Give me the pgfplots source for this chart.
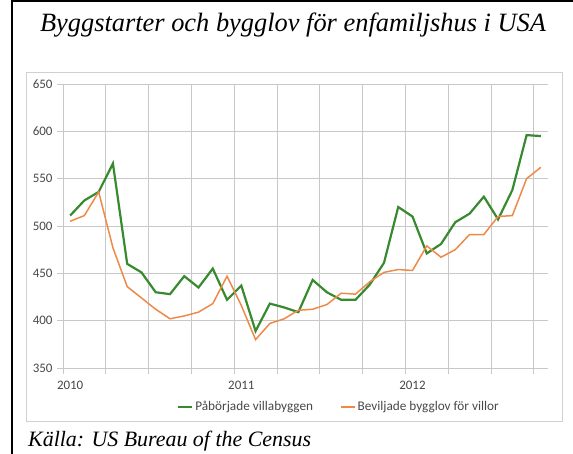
\documentclass[border=0pt]{standalone}
\usepackage{pgfplots}
\pgfplotsset{compat=1.18}
\usepackage{fontspec}
\setmainfont{Liberation Serif}
\newfontfamily\calibri{Carlito}
\definecolor{gridc}{HTML}{C8C8C8}
\definecolor{boxc}{HTML}{D0D0D0}
\definecolor{txtc}{HTML}{484848}
\definecolor{greenl}{HTML}{388A2E}
\definecolor{orangel}{HTML}{EE8A48}
\begin{document}
\begin{tikzpicture}[x=1bp,y=1bp]
\useasboundingbox (0,0) rectangle (573,454);
\draw[line width=2bp] (12,0) -- (12,453) -- (573,453);
\draw[boxc, line width=0.8bp] (26,33) rectangle (562,381.3);
\node[anchor=base, font=\fontsize{26.5}{30}\selectfont\itshape] at (293,422) {Byggstarter och bygglov för enfamiljshus i USA};
\node[anchor=base west, inner sep=0pt, font=\fontsize{22}{26}\selectfont\itshape] at (28,7) {Källa: US Bureau of the Census};
\begin{axis}[
  at={(63bp,86bp)}, anchor=south west,
  scale only axis, width=485bp, height=284bp,
  xmin=-0.5, xmax=33.5, ymin=350, ymax=650,
  axis line style={draw=none},
  xtick={-0.5,2.5,...,32.5}, xticklabels={},
  ytick={350,400,...,650},
  xtick pos=bottom, ytick pos=left,
  tick align=outside, major tick length=6bp,
  tick style={gridc, line width=0.8bp},
  grid=major, major grid style={gridc, line width=0.8bp},
  extra x ticks={0,12,24}, extra x tick labels={2010,2011,2012},
  extra x tick style={grid=none, major tick length=0pt, tick style={draw=none},
    xticklabel style={yshift=-10bp}},
  ticklabel style={font=\calibri\fontsize{13}{15}\selectfont, text=txtc},
  yticklabel style={xshift=-1bp},
  /pgf/number format/assume math mode=true,
  legend style={at={(0.569,-0.137)}, anchor=center, draw=none, fill=none,
    font=\calibri\fontsize{13.3}{15}\selectfont, text=txtc,
    legend columns=2, /tikz/every even column/.append style={column sep=25bp},
    inner sep=0pt},
  legend image code/.code={\draw[#1] (0bp,0bp) -- (14bp,0bp);},
]
\addplot[greenl, line width=2.2bp] coordinates {
(0,511)(1,527)(2,536)(3,566)(4,460)(5,451)(6,430)(7,428)(8,447)(9,435)
(10,455)(11,422)(12,437)(13,389)(14,418)(15,414)(16,409)(17,443)(18,430)(19,422)
(20,422)(21,438)(22,461)(23,520)(24,510)(25,471)(26,481)(27,504)(28,513)(29,531)
(30,507)(31,538)(32,596)(33,595)};
\addlegendentry{Påbörjade villabyggen}
\addplot[orangel, line width=1.5bp] coordinates {
(0,505)(1,511)(2,536)(3,477)(4,436)(5,424)(6,412)(7,402)(8,405)(9,409)
(10,418)(11,447)(12,416)(13,380)(14,397)(15,402)(16,411)(17,412)(18,417)(19,429)
(20,428)(21,441)(22,451)(23,454)(24,453)(25,479)(26,467)(27,475)(28,491)(29,491)
(30,510)(31,511)(32,550)(33,562)};
\addlegendentry{Beviljade bygglov för villor}
\end{axis}
\end{tikzpicture}
\end{document}
